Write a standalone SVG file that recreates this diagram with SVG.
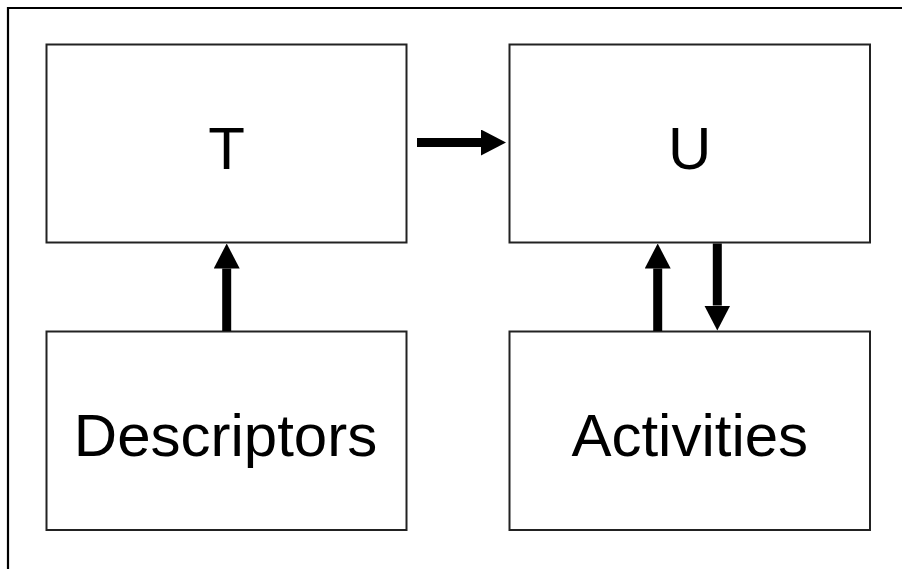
<svg xmlns="http://www.w3.org/2000/svg" width="902" height="569" viewBox="0 0 902 569">
  <defs>
    <marker id="head" viewBox="0 0 25 26" refX="0" refY="13" markerWidth="25" markerHeight="26" markerUnits="userSpaceOnUse" orient="auto">
      <path d="M0,0 L25,13 L0,26 Z" fill="#000"/>
    </marker>
  </defs>
  <style>
    .box { fill: #fff; stroke: #222; stroke-width: 2; }
    .label { font-family: "Liberation Sans", Arial, sans-serif; font-size: 60px; fill: #000; text-anchor: middle; }
    .conn { stroke: #000; stroke-width: 9; fill: none; marker-end: url(#head); }
  </style>
  <rect width="902" height="569" fill="#fff"/>
  <path d="M8,569 V8 H902" fill="none" stroke="#000" stroke-width="2.2"/>

  <g id="node-T">
    <rect class="box" x="46.5" y="44.5" width="360" height="198"/>
    <text class="label" x="226.5" y="169">T</text>
  </g>
  <g id="node-U">
    <rect class="box" x="509.5" y="44.5" width="360.5" height="198"/>
    <text class="label" x="689.75" y="169">U</text>
  </g>
  <g id="node-Descriptors">
    <rect class="box" x="46.5" y="331.5" width="360" height="198.5"/>
    <text class="label" x="225.5" y="456">Descriptors</text>
  </g>
  <g id="node-Activities">
    <rect class="box" x="509.5" y="331.5" width="360.5" height="198.5"/>
    <text class="label" x="689.75" y="456">Activities</text>
  </g>

  <g id="connectors">
    <line class="conn" x1="417" y1="142.5" x2="481" y2="142.5"/>
    <line class="conn" x1="226.7" y1="331" x2="226.7" y2="268.5"/>
    <line class="conn" x1="657.7" y1="331" x2="657.7" y2="268.5"/>
    <line class="conn" x1="717.3" y1="243.5" x2="717.3" y2="305.5"/>
  </g>
</svg>
